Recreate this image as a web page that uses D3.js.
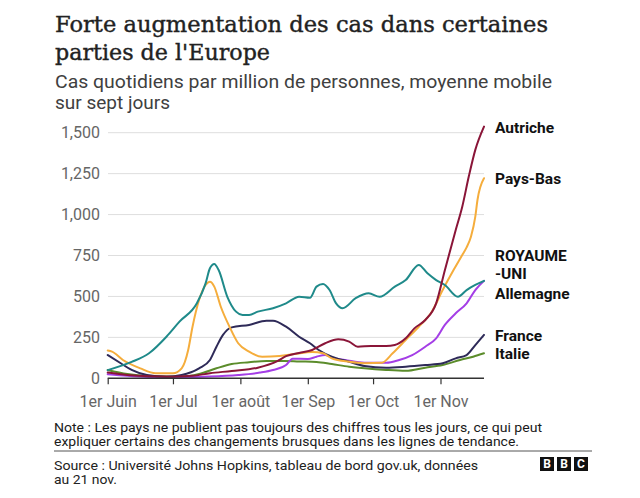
<!DOCTYPE html>
<html><head><meta charset="utf-8">
<script src="https://cdn.jsdelivr.net/npm/d3@7"></script>
<style>
html,body{margin:0;padding:0;background:#fff;}
svg{display:block;}
</style></head>
<body>
<svg id="chart" width="640" height="498"></svg>
<script>
// ---- Data ----
const titleLines = ["Forte augmentation des cas dans certaines", "parties de l'Europe"];
const subtitleLines = ["Cas quotidiens par million de personnes, moyenne mobile", "sur sept jours"];
const noteLines = ["Note : Les pays ne publient pas toujours des chiffres tous les jours, ce qui peut",
                   "expliquer certains des changements brusques dans les lignes de tendance."];
const sourceLines = ["Source : Université Johns Hopkins, tableau de bord gov.uk, données", "au 21 nov."];

const yTicks = [0, 250, 500, 750, 1000, 1250, 1500];
const xTickDates = ["2021-06-01","2021-07-01","2021-08-01","2021-09-01","2021-10-01","2021-11-01"];
const xTickLabels = ["1er Juin","1er Jul","1er août","1er Sep","1er Oct","1er Nov"];

const ukPoints = [["2021-06-01",50],["2021-06-12",100],["2021-06-20",153],["2021-06-28",254],["2021-07-04",346],
  ["2021-07-12",458],["2021-07-16",580],["2021-07-18",672],["2021-07-20",698],["2021-07-22",661],["2021-07-26",498],
  ["2021-07-30",407],["2021-08-02",387],["2021-08-05",387],["2021-08-09",407],["2021-08-16",428],["2021-08-22",458],
  ["2021-08-28",498],["2021-09-02",492],["2021-09-05",560],["2021-09-08",576],["2021-09-11",539],["2021-09-14",458],
  ["2021-09-17",428],["2021-09-23",489],["2021-09-29",519],["2021-10-04",498],["2021-10-11",560],["2021-10-16",600],
  ["2021-10-22",692],["2021-10-26",641],["2021-10-30",600],["2021-11-03",570],["2021-11-09",498],["2021-11-13",539],
  ["2021-11-17",570],["2021-11-21",595]];
const nlPoints = [["2021-06-01",170],["2021-06-03",163],["2021-06-08",112],["2021-06-16",61],["2021-06-23",31],
  ["2021-07-01",31],["2021-07-05",61],["2021-07-08",173],["2021-07-10",315],["2021-07-13",478],["2021-07-16",570],
  ["2021-07-18",590],["2021-07-20",560],["2021-07-23",437],["2021-07-27",315],["2021-07-31",214],["2021-08-05",163],
  ["2021-08-11",132],["2021-08-19",136],["2021-08-26",148],["2021-09-03",160],["2021-09-08",153],["2021-09-12",122],
  ["2021-09-20",101],["2021-09-27",92],["2021-10-05",95],["2021-10-10",153],["2021-10-16",234],["2021-10-22",315],
  ["2021-10-28",407],["2021-11-02",539],["2021-11-07",661],["2021-11-11",753],["2021-11-13",800],["2021-11-15",865],
  ["2021-11-17",987],["2021-11-18",1089],["2021-11-21",1222]];
const atPoints = [["2021-06-01",35],["2021-06-10",20],["2021-06-20",12],["2021-07-01",10],["2021-07-10",15],
  ["2021-07-18",31],["2021-07-28",45],["2021-08-09",65],["2021-08-18",105],["2021-08-22",135],["2021-08-28",155],
  ["2021-09-03",173],["2021-09-09",214],["2021-09-15",238],["2021-09-20",224],["2021-09-24",193],["2021-09-30",197],
  ["2021-10-07",197],["2021-10-11",203],["2021-10-16",244],["2021-10-20",305],["2021-10-25",356],["2021-10-30",458],
  ["2021-11-03",660],["2021-11-08",906],["2021-11-11",1048],["2021-11-14",1232],["2021-11-17",1395],["2021-11-21",1537]];
const dePoints = [["2021-06-01",25],["2021-06-10",15],["2021-06-20",8],["2021-07-01",6],["2021-07-15",10],
  ["2021-07-31",20],["2021-08-10",35],["2021-08-16",51],["2021-08-22",81],["2021-08-25",120],["2021-09-01",118],
  ["2021-09-05",132],["2021-09-09",142],["2021-09-13",122],["2021-09-18",112],["2021-09-27",95],["2021-10-07",95],
  ["2021-10-13",112],["2021-10-19",142],["2021-10-25",193],["2021-10-30",244],["2021-11-03",326],["2021-11-08",397],
  ["2021-11-13",458],["2021-11-17",539],["2021-11-21",595]];
const frPoints = [["2021-06-01",142],["2021-06-07",92],["2021-06-12",51],["2021-06-19",20],["2021-06-28",10],
  ["2021-07-05",20],["2021-07-13",61],["2021-07-18",112],["2021-07-21",193],["2021-07-24",265],["2021-07-28",311],
  ["2021-08-05",326],["2021-08-13",352],["2021-08-16",352],["2021-08-22",315],["2021-08-28",254],["2021-09-02",214],
  ["2021-09-06",173],["2021-09-12",132],["2021-09-20",101],["2021-09-27",75],["2021-10-07",65],["2021-10-16",71],
  ["2021-10-25",81],["2021-11-02",92],["2021-11-08",122],["2021-11-13",142],["2021-11-17",203],["2021-11-21",265]];
const itPoints = [["2021-06-01",51],["2021-06-10",26],["2021-06-20",14],["2021-07-05",10],["2021-07-13",26],
  ["2021-07-21",61],["2021-07-28",87],["2021-08-05",98],["2021-08-13",106],["2021-08-21",106],["2021-08-28",103],
  ["2021-09-05",100],["2021-09-12",87],["2021-09-20",71],["2021-09-27",61],["2021-10-07",51],["2021-10-16",46],
  ["2021-10-25",65],["2021-11-02",81],["2021-11-10",112],["2021-11-16",132],["2021-11-21",153]];

const seriesNames = ["Italie","Allemagne","France","Pays-Bas","ROYAUME-UNI","Autriche"];
const seriesData = [itPoints, dePoints, frPoints, nlPoints, ukPoints, atPoints];
const seriesColors = ["#5b8c2b","#a43ee6","#2e2a58","#f5ad3c","#1f8a8a","#8a1538"];

// labels at right
const labelTexts = [["Autriche"],["Pays-Bas"],["ROYAUME"],["-UNI"],["Allemagne"],["France"],["Italie"]];
const labelY = [127, 178, 255, 273, 293, 335, 353];

// ---- Drawing ----
const svg = d3.select("#chart");
const parse = d3.timeParse("%Y-%m-%d");
const sans = "Roboto, 'Noto Sans', sans-serif";

svg.append("rect").attr("width",640).attr("height",498).attr("fill","#fff");

const x = d3.scaleTime().domain([parse("2021-06-01"), parse("2021-11-21")]).range([107.7, 484]);
const y = d3.scaleLinear().domain([0, 1500]).range([378.3, 132.7]);

function fit(sel, w){ sel.attr("textLength", w).attr("lengthAdjust","spacingAndGlyphs"); }

// title
const tW = [493, 215];
titleLines.forEach((t,i)=>{
  const s = svg.append("text").attr("x",55).attr("y",31.5 + i*28.5).text(t)
    .attr("font-family","'DejaVu Serif', 'Liberation Serif', serif").attr("font-size",23).attr("fill","#222")
    .attr("stroke","#222").attr("stroke-width",0.4);
  fit(s, tW[i]);
});
const sW = [497, 115];
subtitleLines.forEach((t,i)=>{
  const s = svg.append("text").attr("x",55).attr("y",88 + i*20.5).text(t)
    .attr("font-family",sans).attr("font-size",18).attr("fill","#404040");
  fit(s, sW[i]);
});

// grid
const grid = svg.append("g");
yTicks.filter(v=>v>0).forEach(v=>{
  grid.append("line").attr("x1",108).attr("x2",484).attr("y1",y(v)).attr("y2",y(v))
    .attr("stroke","#dedede").attr("stroke-width",1);
});
// y labels
yTicks.forEach(v=>{
  svg.append("text").attr("x",100).attr("y",y(v)).attr("dy","0.36em").attr("text-anchor","end")
    .attr("font-family",sans).attr("font-size",16).attr("fill","#666").text(d3.format(",")(v));
});

// lines
const line = d3.line().x(d=>x(parse(d[0]))).y(d=>y(d[1])).curve(d3.curveMonotoneX);
seriesData.forEach((data,i)=>{
  svg.append("path").datum(data).attr("d",line).attr("fill","none")
    .attr("stroke",seriesColors[i]).attr("stroke-width",2).attr("stroke-linejoin","round").attr("stroke-linecap","round");
});

// x axis
const xAxis = d3.axisBottom(x).tickValues(xTickDates.map(parse)).tickSize(6)
  .tickFormat((d,i)=>xTickLabels[i]);
const gx = svg.append("g").attr("transform","translate(0,378.3)").call(xAxis);
gx.select(".domain").attr("stroke","#333").attr("stroke-width",1.6).attr("d","M107.7,0H484");
gx.selectAll(".tick line").attr("stroke","#333").attr("stroke-width",1.2);
gx.selectAll(".tick text").attr("font-family",sans).attr("font-size",16).attr("fill","#666").attr("y",17).attr("dy","0.71em");

// right labels
labelTexts.forEach((lines,i)=>{
  svg.append("text").attr("x",495).attr("y",labelY[i]).attr("dy","0.36em")
    .attr("font-family",sans).attr("font-weight","bold").attr("font-size",15.5).attr("fill","#111").text(lines[0]);
});

// note
const nW = [488, 465];
noteLines.forEach((t,i)=>{
  const s = svg.append("text").attr("x",54).attr("y",431.5 + i*14.5).text(t)
    .attr("font-family",sans).attr("font-size",13).attr("fill","#1a1a1a");
  fit(s, nW[i]);
});
svg.append("line").attr("x1",54).attr("x2",592).attr("y1",451).attr("y2",451).attr("stroke","#555").attr("stroke-width",1);
const soW = [424, 63];
sourceLines.forEach((t,i)=>{
  const s = svg.append("text").attr("x",54).attr("y",469.5 + i*14.5).text(t)
    .attr("font-family",sans).attr("font-size",13).attr("fill","#222");
  fit(s, soW[i]);
});

// BBC logo
const bbc = svg.append("g");
["B","B","C"].forEach((c,i)=>{
  bbc.append("rect").attr("x",540 + i*17).attr("y",457).attr("width",14).attr("height",14).attr("fill","#111");
  bbc.append("text").attr("x",547 + i*17).attr("y",464).attr("dy","0.36em").attr("text-anchor","middle")
    .attr("font-family",sans).attr("font-weight","bold").attr("font-size",12).attr("fill","#fff").text(c);
});
</script>
</body></html>
